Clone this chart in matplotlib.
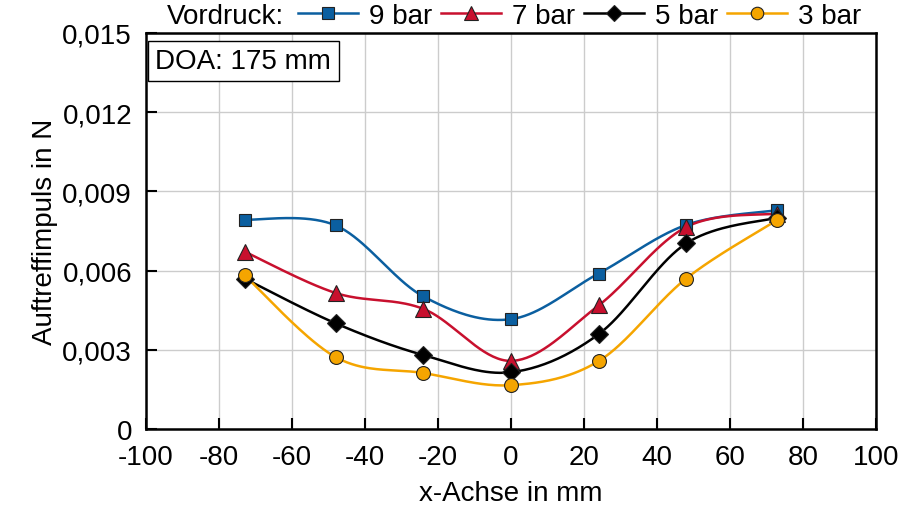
import numpy as np
import matplotlib.pyplot as plt

plt.rcParams['font.family'] = ['Liberation Sans', 'DejaVu Sans']
plt.rcParams['font.size'] = 20

# Messpositionen und Auftreffimpuls je Vordruck
x_pos = [-73, -48, -24, 0, 24, 48, 73]
imp_9bar = [0.00793, 0.00771, 0.00502, 0.00416, 0.00589, 0.00773, 0.00829]
imp_7bar = [0.00672, 0.00515, 0.00455, 0.00258, 0.00468, 0.00765, 0.00816]
imp_5bar = [0.00570, 0.00400, 0.00280, 0.00215, 0.00359, 0.00703, 0.00801]
imp_3bar = [0.00582, 0.00272, 0.00212, 0.00166, 0.00257, 0.00570, 0.00792]

labels = ['9 bar', '7 bar', '5 bar', '3 bar']
x_ticks = list(range(-100, 101, 20))
y_ticks = [0, 0.003, 0.006, 0.009, 0.012, 0.015]
y_ticklabels = ['0', '0,003', '0,006', '0,009', '0,012', '0,015']


def glatt(xs, ys, n=40):
    # geglaettete Linie wie in Excel (Bezier mit Tangenten aus Nachbarpunkten)
    p = np.column_stack([xs, ys]).astype(float)
    p = np.vstack([p[0], p, p[-1]])
    out = []
    for i in range(1, len(p) - 2):
        p0, p1, p2, p3 = p[i - 1], p[i], p[i + 1], p[i + 2]
        c1 = p1 + (p2 - p0) / 6
        c2 = p2 - (p3 - p1) / 6
        t = np.linspace(0, 1, n)[:, None]
        seg = ((1 - t) ** 3) * p1 + 3 * ((1 - t) ** 2) * t * c1 + 3 * (1 - t) * t ** 2 * c2 + t ** 3 * p2
        out.append(seg if i == 1 else seg[1:])
    s = np.vstack(out)
    return s[:, 0], s[:, 1]


fig = plt.figure(figsize=(9.22, 5.06), dpi=100)
ax = fig.add_axes([146 / 922, 1 - 430 / 506, 730 / 922, 396 / 506])

reihen = [
    (imp_9bar, '#0b5fa0', 's', 9),
    (imp_7bar, '#c8102e', '^', 11),
    (imp_5bar, '#000000', 'D', 9),
    (imp_3bar, '#f5a500', 'o', 10),
]
handles = []
for (werte, farbe, marker, ms), lab in zip(reihen, labels):
    gx, gy = glatt(x_pos, werte)
    ax.plot(gx, gy, color=farbe, lw=1.8, zorder=3)
    ax.plot(x_pos, werte, ls='none', marker=marker, ms=ms, mfc=farbe,
            mec='#222222', mew=0.8, zorder=4)
    h, = ax.plot([], [], color=farbe, lw=1.8, marker=marker, ms=ms - 1,
                 mfc=farbe, mec='#222222', mew=0.8)
    handles.append(h)

ax.set_xlim(-100, 100)
ax.set_ylim(0, 0.015)
ax.set_xticks(x_ticks)
ax.set_xticklabels([str(v) for v in x_ticks])
ax.set_yticks(y_ticks)
ax.set_yticklabels(y_ticklabels)
ax.grid(True, color='#cccccc', lw=1.0, zorder=0)
ax.set_axisbelow(True)
ax.tick_params(direction='in', length=8, width=1.5, top=False, right=False)
ax.tick_params(axis='y', pad=10)
ax.tick_params(axis='x', pad=11)
for sp in ax.spines.values():
    sp.set_linewidth(1.8)

ax.set_xlabel('x-Achse in mm', labelpad=7)
ax.set_ylabel('Auftreffimpuls in N', labelpad=3)

ax.text(0.013, 0.962, 'DOA: 175 mm', transform=ax.transAxes, va='top', ha='left',
        bbox=dict(boxstyle='square,pad=0.26', fc='white', ec='black', lw=1.0), zorder=5)

fig.text(167 / 922, 1 - 17 / 506, 'Vordruck:', va='center', ha='left')
fig.legend(handles=handles, labels=labels, loc='center left', ncol=4,
           bbox_to_anchor=(298 / 922, 1 - 17 / 506), frameon=False,
           handlelength=2.15, handletextpad=0.42, columnspacing=0.3,
           borderpad=0, borderaxespad=0)

fig.savefig('out.png', dpi=100)
